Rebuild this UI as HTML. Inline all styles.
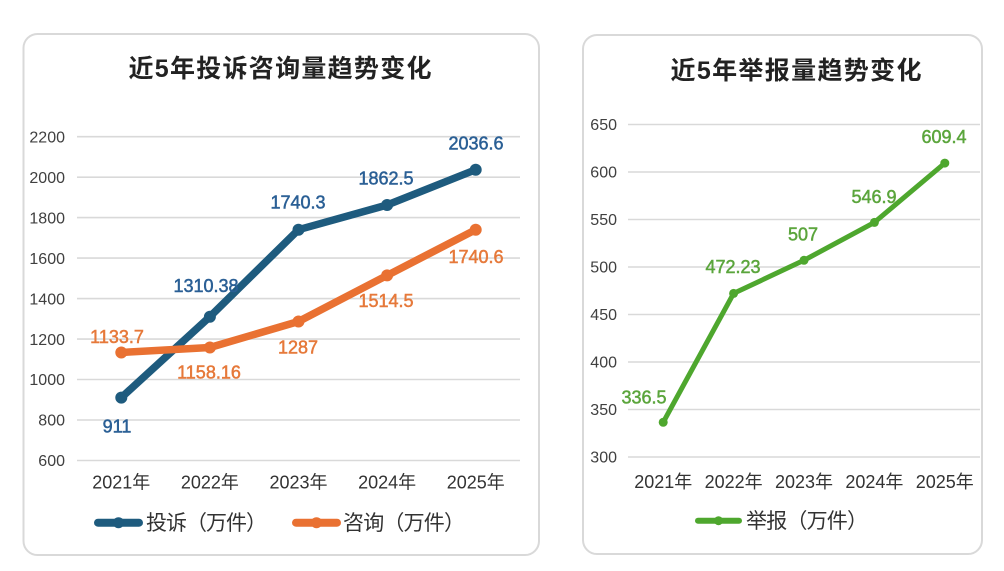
<!DOCTYPE html>
<html><head><meta charset="utf-8">
<style>
html,body{margin:0;padding:0;background:#fff;}
svg{display:block;font-family:"Liberation Sans","Noto Sans CJK SC",sans-serif;}
</style></head>
<body>
<svg width="1004" height="571" viewBox="0 0 1004 571" xmlns="http://www.w3.org/2000/svg">
<rect x="0" y="0" width="1004" height="571" fill="#fff"/>
<!-- panels -->
<rect x="23.5" y="34" width="515.5" height="521" rx="14" ry="14" fill="#fff" stroke="#d9d9d9" stroke-width="2"/>
<rect x="583" y="35" width="399" height="519" rx="14" ry="14" fill="#fff" stroke="#d9d9d9" stroke-width="2"/>

<!-- titles -->
<text x="280" y="77" text-anchor="middle" font-size="25" font-weight="bold" fill="#222" textLength="303" lengthAdjust="spacing" font-family="'Liberation Sans','Noto Sans CJK SC',sans-serif">近5年投诉咨询量趋势变化</text>
<text x="796" y="79" text-anchor="middle" font-size="25" font-weight="bold" fill="#222" textLength="251" lengthAdjust="spacing" font-family="'Liberation Sans','Noto Sans CJK SC',sans-serif">近5年举报量趋势变化</text>

<!-- LEFT CHART gridlines -->
<g stroke="#d9d9d9" stroke-width="1.6">
<line x1="77" x2="520" y1="460.5" y2="460.5"/>
<line x1="77" x2="520" y1="420.0" y2="420.0"/>
<line x1="77" x2="520" y1="379.5" y2="379.5"/>
<line x1="77" x2="520" y1="339.1" y2="339.1"/>
<line x1="77" x2="520" y1="298.6" y2="298.6"/>
<line x1="77" x2="520" y1="258.1" y2="258.1"/>
<line x1="77" x2="520" y1="217.6" y2="217.6"/>
<line x1="77" x2="520" y1="177.2" y2="177.2"/>
<line x1="77" x2="520" y1="136.7" y2="136.7"/>
</g>
<g font-size="16" fill="#404040" text-anchor="end">
<text x="65" y="466.2">600</text>
<text x="65" y="425.7">800</text>
<text x="65" y="385.2">1000</text>
<text x="65" y="344.8">1200</text>
<text x="65" y="304.3">1400</text>
<text x="65" y="263.8">1600</text>
<text x="65" y="223.3">1800</text>
<text x="65" y="182.9">2000</text>
<text x="65" y="142.4">2200</text>
</g>
<g font-size="18" fill="#333" text-anchor="middle">
<text x="121.3" y="488.5" textLength="58" lengthAdjust="spacing">2021年</text>
<text x="209.9" y="488.5" textLength="58" lengthAdjust="spacing">2022年</text>
<text x="298.5" y="488.5" textLength="58" lengthAdjust="spacing">2023年</text>
<text x="387.1" y="488.5" textLength="58" lengthAdjust="spacing">2024年</text>
<text x="475.7" y="488.5" textLength="58" lengthAdjust="spacing">2025年</text>
</g>

<!-- blue series -->
<polyline fill="none" stroke="#1e5b7e" stroke-width="7.5" stroke-linejoin="round" stroke-linecap="round"
 points="121.3,397.6 209.9,316.7 298.5,229.7 387.1,205.0 475.7,169.7"/>
<g fill="#1e5b7e">
<circle cx="121.3" cy="397.6" r="6"/><circle cx="209.9" cy="316.7" r="6"/><circle cx="298.5" cy="229.7" r="6"/><circle cx="387.1" cy="205.0" r="6"/><circle cx="475.7" cy="169.7" r="6"/>
</g>
<!-- orange series -->
<polyline fill="none" stroke="#e97132" stroke-width="7.5" stroke-linejoin="round" stroke-linecap="round"
 points="121.3,352.5 209.9,347.5 298.5,321.5 387.1,275.4 475.7,229.7"/>
<g fill="#e97132">
<circle cx="121.3" cy="352.5" r="6"/><circle cx="209.9" cy="347.5" r="6"/><circle cx="298.5" cy="321.5" r="6"/><circle cx="387.1" cy="275.4" r="6"/><circle cx="475.7" cy="229.7" r="6"/>
</g>

<!-- blue labels -->
<g font-size="18" fill="#2a5f95" stroke="#2a5f95" stroke-width="0.5" text-anchor="middle">
<text x="117" y="432.5">911</text>
<text x="206" y="292">1310.38</text>
<text x="298" y="208.5">1740.3</text>
<text x="386" y="184.5">1862.5</text>
<text x="476" y="149.5">2036.6</text>
</g>
<!-- orange labels -->
<g font-size="18" fill="#e6793a" stroke="#e6793a" stroke-width="0.5" text-anchor="middle">
<text x="117" y="343">1133.7</text>
<text x="209" y="378.5">1158.16</text>
<text x="298" y="353.5">1287</text>
<text x="386" y="307">1514.5</text>
<text x="476" y="263">1740.6</text>
</g>

<!-- left legend -->
<line x1="98" x2="139" y1="522.7" y2="522.7" stroke="#1e5b7e" stroke-width="8" stroke-linecap="round"/>
<circle cx="118.5" cy="522.7" r="5.5" fill="#1e5b7e"/>
<text x="146" y="530" font-size="21" fill="#333" textLength="121" lengthAdjust="spacing">投诉（万件）</text>
<line x1="296" x2="337" y1="522.7" y2="522.7" stroke="#e97132" stroke-width="8" stroke-linecap="round"/>
<circle cx="316.5" cy="522.7" r="5.5" fill="#e97132"/>
<text x="343" y="530" font-size="21" fill="#333" textLength="122" lengthAdjust="spacing">咨询（万件）</text>

<!-- RIGHT CHART gridlines -->
<g stroke="#d9d9d9" stroke-width="1.6">
<line x1="628" x2="980" y1="457" y2="457"/>
<line x1="628" x2="980" y1="409.5" y2="409.5"/>
<line x1="628" x2="980" y1="362" y2="362"/>
<line x1="628" x2="980" y1="314.5" y2="314.5"/>
<line x1="628" x2="980" y1="267" y2="267"/>
<line x1="628" x2="980" y1="219.5" y2="219.5"/>
<line x1="628" x2="980" y1="172" y2="172"/>
<line x1="628" x2="980" y1="124.5" y2="124.5"/>
</g>
<g font-size="16" fill="#404040" text-anchor="end">
<text x="617" y="462.7">300</text>
<text x="617" y="415.2">350</text>
<text x="617" y="367.7">400</text>
<text x="617" y="320.2">450</text>
<text x="617" y="272.7">500</text>
<text x="617" y="225.2">550</text>
<text x="617" y="177.7">600</text>
<text x="617" y="130.2">650</text>
</g>
<g font-size="18" fill="#333" text-anchor="middle">
<text x="663.2" y="488" textLength="58" lengthAdjust="spacing">2021年</text>
<text x="733.6" y="488" textLength="58" lengthAdjust="spacing">2022年</text>
<text x="804" y="488" textLength="58" lengthAdjust="spacing">2023年</text>
<text x="874.4" y="488" textLength="58" lengthAdjust="spacing">2024年</text>
<text x="944.8" y="488" textLength="58" lengthAdjust="spacing">2025年</text>
</g>
<polyline fill="none" stroke="#4ea72e" stroke-width="5" stroke-linejoin="round" stroke-linecap="round"
 points="663.2,422.3 733.6,293.4 804,260.3 874.4,222.4 944.8,163.1"/>
<g fill="#4ea72e">
<circle cx="663.2" cy="422.3" r="4.5"/><circle cx="733.6" cy="293.4" r="4.5"/><circle cx="804" cy="260.3" r="4.5"/><circle cx="874.4" cy="222.4" r="4.5"/><circle cx="944.8" cy="163.1" r="4.5"/>
</g>
<g font-size="18" fill="#5ba53c" stroke="#5ba53c" stroke-width="0.5" text-anchor="middle">
<text x="644" y="403.7">336.5</text>
<text x="733" y="273">472.23</text>
<text x="803" y="240.5">507</text>
<text x="874" y="203">546.9</text>
<text x="944" y="143">609.4</text>
</g>
<!-- right legend -->
<line x1="698" x2="739" y1="520.7" y2="520.7" stroke="#4ea72e" stroke-width="6" stroke-linecap="round"/>
<circle cx="718.5" cy="520.7" r="4.5" fill="#4ea72e"/>
<text x="746" y="528" font-size="21" fill="#333" textLength="122" lengthAdjust="spacing">举报（万件）</text>
</svg>
</body></html>
